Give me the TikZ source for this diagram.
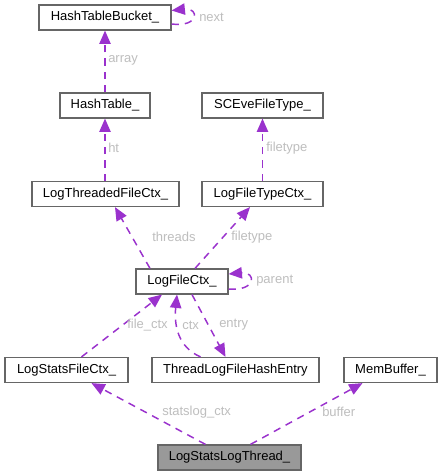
\documentclass[tikz,border=0pt]{standalone}
\usepackage{fontspec}
\setmainfont{Liberation Sans}
\usetikzlibrary{arrows.meta,calc}
\definecolor{edgec}{HTML}{9A32CD}
\definecolor{labc}{HTML}{BEBEBE}
\definecolor{boxc}{HTML}{666666}
\definecolor{mainfill}{HTML}{999999}
\begin{document}
\begin{tikzpicture}[x=0.75pt,y=-0.75pt,
  every node/.style={font=\fontsize{9.75}{11}\selectfont},
  box/.style={draw=boxc,line width=0.9pt,fill=white,minimum height=18.75pt,inner sep=0pt,text=black},
  edge/.style={draw=edgec,line width=1.1pt,dash pattern=on 5.5pt off 4.5pt,-{Triangle[length=10pt,width=8.5pt]}},
  lab/.style={text=labc,anchor=west,inner sep=0pt}]
\useasboundingbox[fill=white] (0,0) rectangle (443,476);
% nodes
\node[box,minimum width=99pt] (htb) at (105,17.5) {HashTableBucket\_};
\node[box,minimum width=67.5pt] (ht) at (105,105.5) {HashTable\_};
\node[box,minimum width=90.75pt] (sce) at (262.5,105.5) {SCEveFileType\_};
\node[box,minimum width=110.25pt] (ltfc) at (105.5,194) {LogThreadedFileCtx\_};
\node[box,minimum width=90.75pt] (lftc) at (262.5,194) {LogFileTypeCtx\_};
\node[box,minimum width=69pt] (lfc) at (182,281.5) {LogFileCtx\_};
\node[box,minimum width=92.25pt] (lsfc) at (66.5,370) {LogStatsFileCtx\_};
\node[box,minimum width=125.25pt] (tlfhe) at (235.5,370) {ThreadLogFileHashEntry};
\node[box,minimum width=69.75pt] (mb) at (390.5,370) {MemBuffer\_};
\node[box,fill=mainfill,minimum width=107.25pt] (lslt) at (229.5,457.5) {LogStatsLogThread\_};
% edges
\draw[edge] ($(htb.east)+(0,6.5)$) .. controls ($(htb.east)+(28,10)$) and ($(htb.east)+(28,-10)$) .. ($(htb.east)+(0,-7)$);
\node[lab] (lnext) at (199,17) {next};
\draw[edge] (ht.north) -- (htb.south);
\node[lab] (larray) at (108,60) {array};
\draw[edge] (ht.south |- ltfc.north) -- (ht.south);
\node[lab] (lht) at (108,148) {ht};
\draw[edge] (lftc.north) -- (sce.south);
\node[lab] (lft1) at (266,148) {filetype};
\draw[edge] ($(lfc.north)+(-32,0)$) -- ($(ltfc.south)+(9.5,0)$);
\node[lab] (lthreads) at (152,237) {threads};
\draw[edge] ($(lfc.north)+(13,0)$) -- ($(lftc.south)+(-12.5,0)$);
\node[lab] (lft2) at (231,237) {filetype};
\draw[edge] ($(lfc.east)+(0,7.5)$) .. controls ($(lfc.east)+(28,10)$) and ($(lfc.east)+(28,-10)$) .. ($(lfc.east)+(0,-7.5)$);
\node[lab] (lparent) at (256,281) {parent};
\draw[edge] ($(lsfc.north)+(15,0)$) -- ($(lfc.south)+(-20,0)$);
\node[lab] (lfilectx) at (127,325) {file\_ctx};
\draw[edge] ($(tlfhe.north)+(-35,0)$) .. controls ($(tlfhe.north)+(-58,-10)$) and ($(lfc.south)+(-8,30)$) .. ($(lfc.south)+(-5,0)$);
\node[lab] (lctx) at (182,325) {ctx};
\draw[edge] ($(lfc.south)+(10,0)$) -- ($(tlfhe.north)+(-10,0)$);
\node[lab] (lentry) at (219,325) {entry};
\draw[edge] ($(lslt.north)+(-24,0)$) -- ($(lsfc.south)+(25,0)$);
\node[lab] (lstats) at (162,412) {statslog\_ctx};
\draw[edge] ($(lslt.north)+(21,0)$) -- ($(mb.south)+(-28,0)$);
\node[lab] (lbuffer) at (322,412) {buffer};
\end{tikzpicture}
\end{document}
